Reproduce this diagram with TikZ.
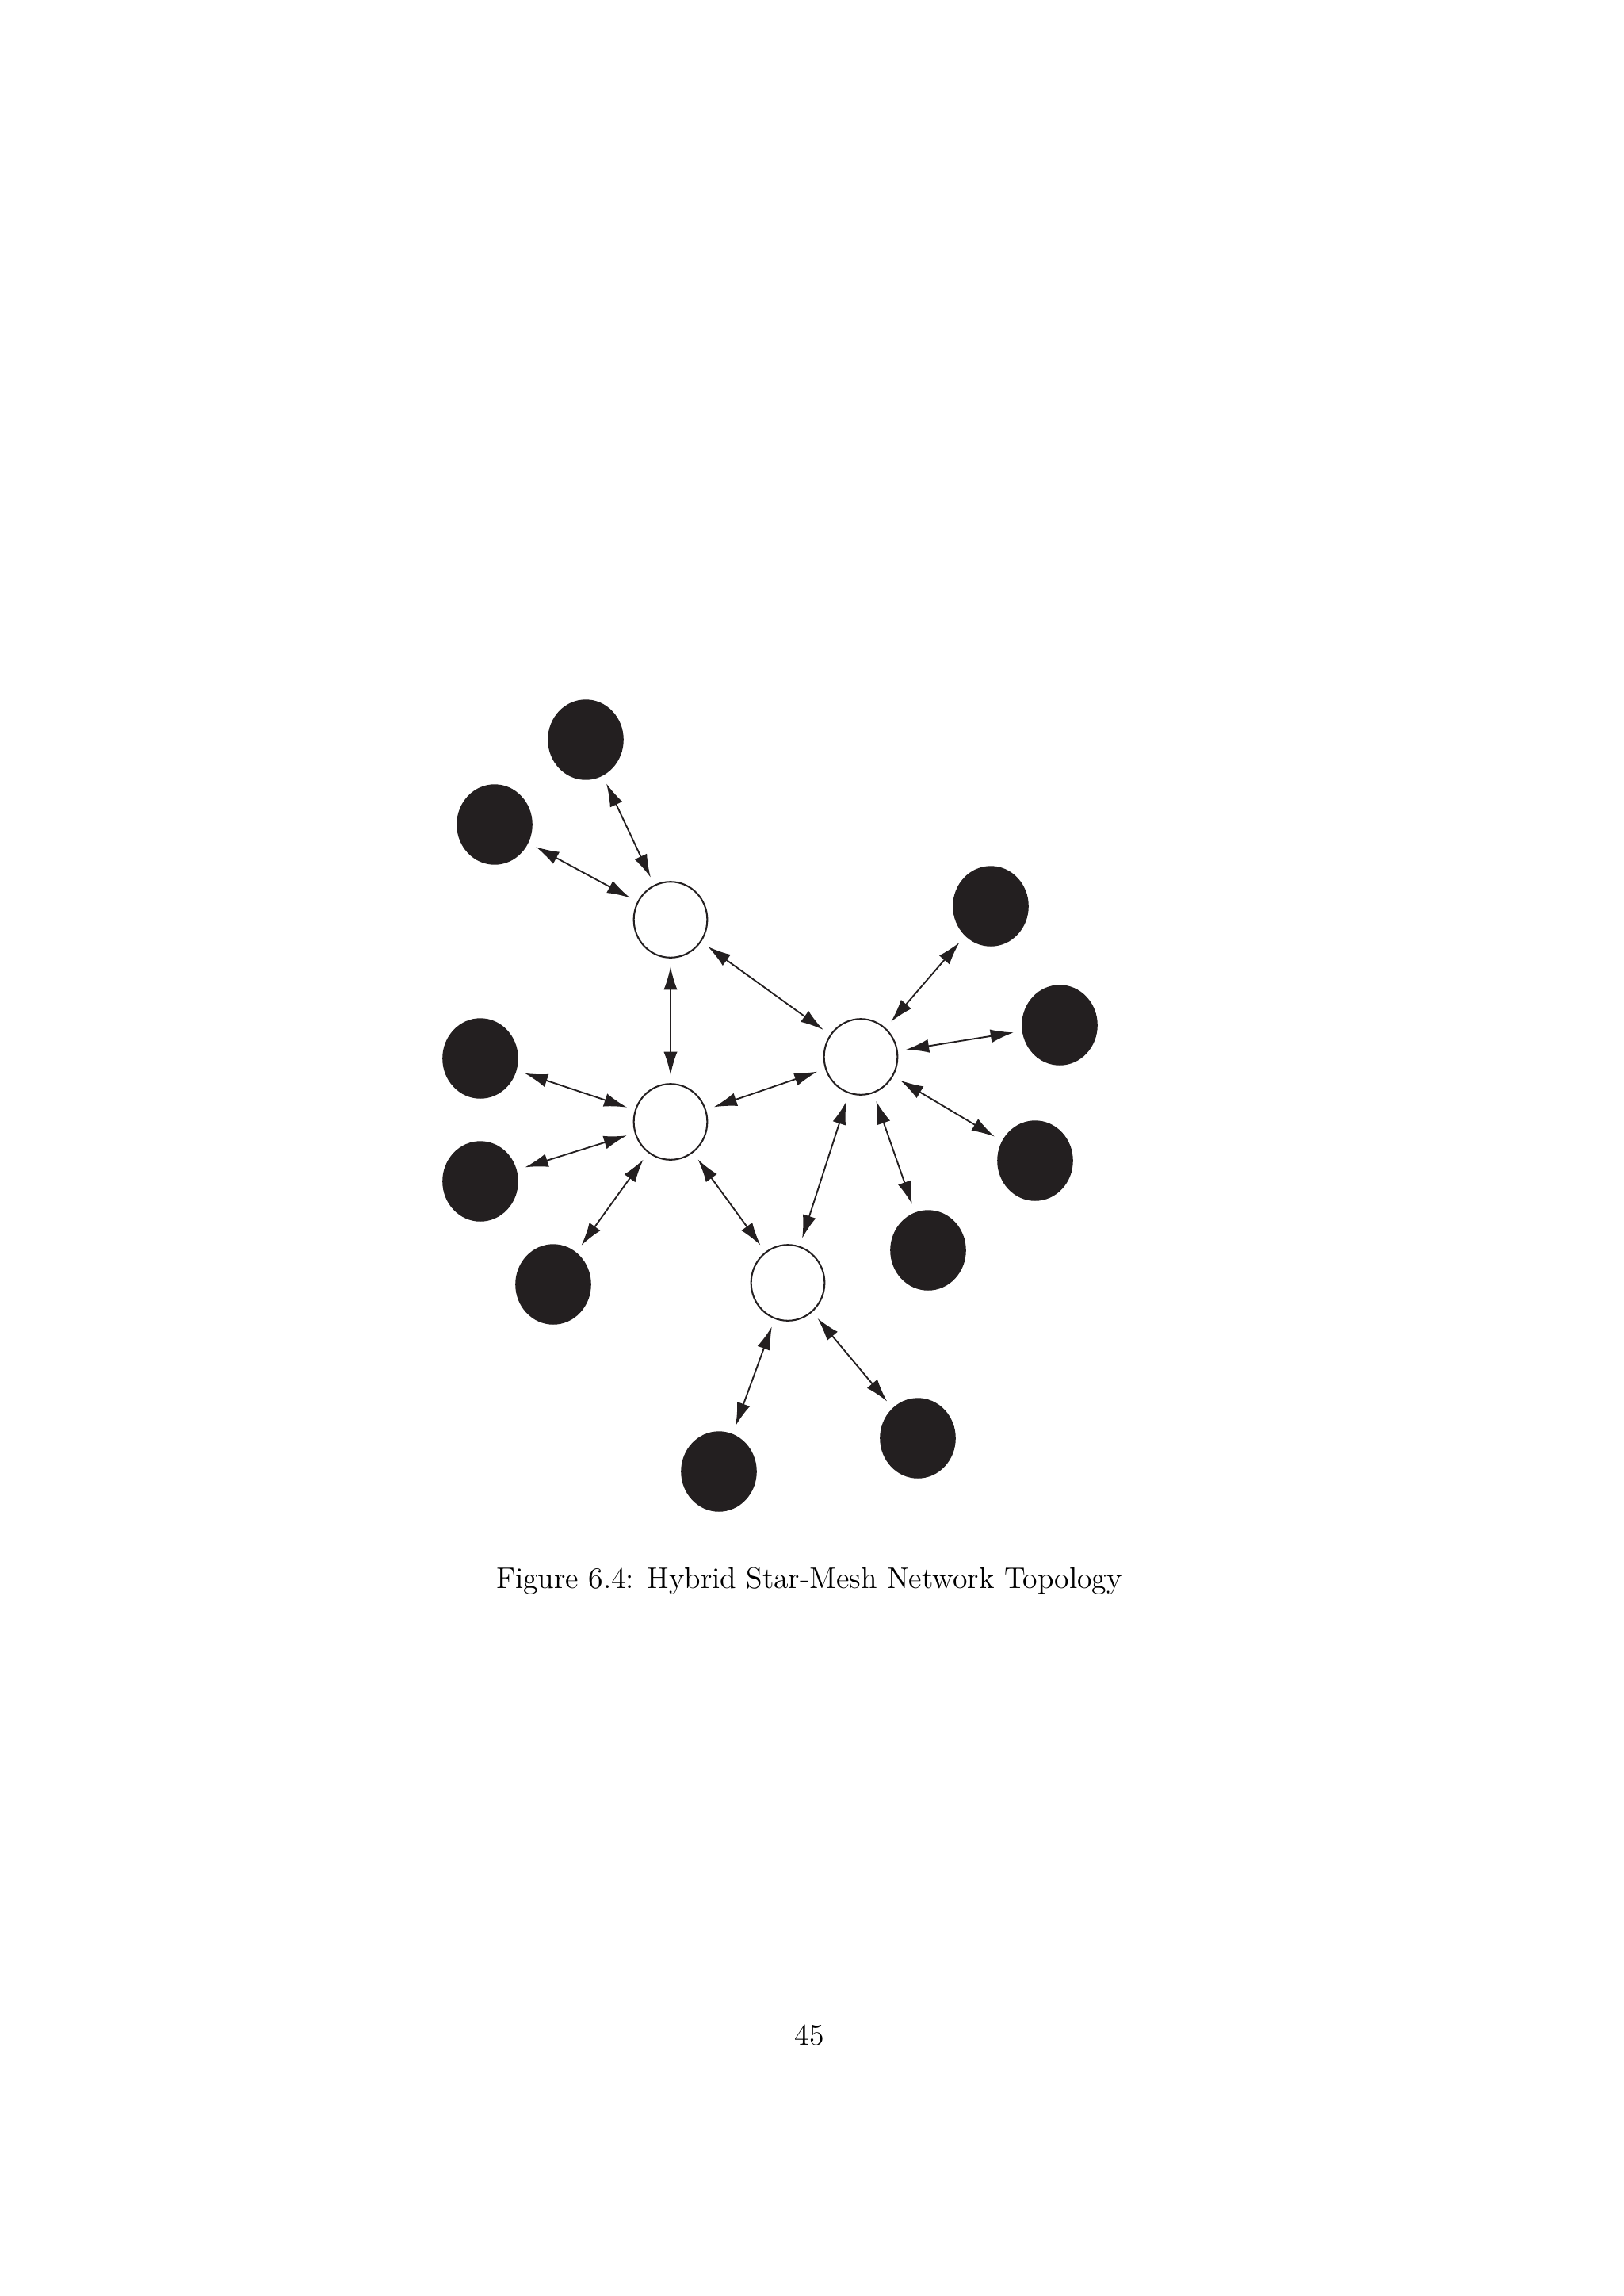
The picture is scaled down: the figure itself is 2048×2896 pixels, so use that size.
\documentclass[tikz,border=0pt]{standalone}
\usetikzlibrary{arrows.meta,shapes.geometric}
\definecolor{tinta}{RGB}{35,31,32}
\tikzset{
  hub/.style={ellipse,draw=tinta,line width=0.6pt,fill=white,minimum width=9.5mm,minimum height=9.8mm,inner sep=0pt},
  term/.style={ellipse,fill=tinta,minimum width=9.8mm,minimum height=10.4mm,inner sep=0pt},
  enlace/.style={{Latex[length=8.5pt,width=5pt]}-{Latex[length=8.5pt,width=5pt]},line width=0.55pt,draw=tinta,shorten <=3pt,shorten >=3pt}
}
\begin{document}
\begin{tikzpicture}[x=0.1025mm,y=-0.1025mm]
        \useasboundingbox (0,0) rectangle (2048,2896); % pagina A4
        % nodos centrales
        \node[hub] (A) at (846,1160) {};
        \node[hub] (B) at (1086,1333) {};
        \node[hub] (C) at (846,1415) {};
        \node[hub] (D) at (994,1618) {};
        % terminales
        \node[term] (t1) at (739,933) {};
        \node[term] (t2) at (624,1040) {};
        \node[term] (t3) at (1250,1143) {};
        \node[term] (t4) at (1337,1293) {};
        \node[term] (t5) at (1306,1464) {};
        \node[term] (t6) at (1171,1577) {};
        \node[term] (t7) at (606,1335) {};
        \node[term] (t8) at (606,1490) {};
        \node[term] (t9) at (698,1620) {};
        \node[term] (t10) at (907,1856) {};
        \node[term] (t11) at (1158,1814) {};
        % enlaces
        \foreach \a/\b in {t1/A,t2/A,A/C,A/B,t3/B,t4/B,t5/B,t6/B,C/B,D/B,t7/C,t8/C,t9/C,D/C,t10/D,t11/D}
            \draw[enlace] (\a) -- (\b);
        \node[font=\fontsize{11}{13.6}\selectfont] (pie) at (1021,1994) {Figure 6.4: Hybrid Star-Mesh Network Topology};
        \node[font=\fontsize{11}{13.6}\selectfont] (pag) at (1021,2567) {45};
\end{tikzpicture}
\end{document}
